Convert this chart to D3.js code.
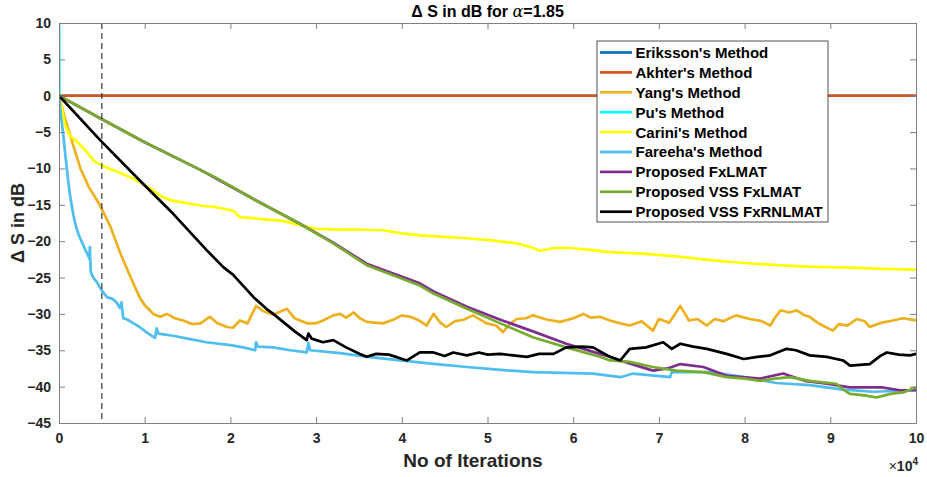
<!DOCTYPE html>
<html>
<head>
<meta charset="utf-8">
<script src="https://cdn.jsdelivr.net/npm/d3@7"></script>
<style>
  body { margin: 0; background: #fff; }
  svg { font-family: "Liberation Sans", Arial, sans-serif; }
</style>
</head>
<body>
<svg id="chart" width="927" height="477"></svg>
<script>
// x values are in units of 10^4 iterations, y values in dB
const xTicks = [0, 1, 2, 3, 4, 5, 6, 7, 8, 9, 10];
const yTicks = [-45, -40, -35, -30, -25, -20, -15, -10, -5, 0, 5, 10];
const markerX = 0.5;

const erikssonX = [0, 10];
const erikssonY = [0, 0];
const akhterX = [0, 10];
const akhterY = [0, 0];
const puX = [0, 0.004];
const puY = [14, -1.5];

const yangX = [0, 0.07, 0.15, 0.25, 0.35, 0.48, 0.6, 0.71, 0.8, 0.89, 0.94, 1.0, 1.06, 1.1, 1.18, 1.26, 1.35, 1.45, 1.55, 1.65, 1.76, 1.85, 1.96, 2.03, 2.11, 2.2, 2.3, 2.38, 2.5, 2.58, 2.66, 2.75, 2.89, 3.0, 3.08, 3.2, 3.28, 3.35, 3.44, 3.51, 3.59, 3.78, 3.9, 4.0, 4.1, 4.2, 4.29, 4.37, 4.45, 4.52, 4.62, 4.72, 4.83, 4.99, 5.1, 5.18, 5.26, 5.34, 5.45, 5.53, 5.7, 5.85, 6.0, 6.12, 6.2, 6.31, 6.43, 6.55, 6.66, 6.8, 6.93, 7.0, 7.12, 7.25, 7.35, 7.45, 7.56, 7.65, 7.75, 7.9, 8.06, 8.2, 8.3, 8.35, 8.42, 8.52, 8.61, 8.7, 8.76, 8.85, 8.91, 9.03, 9.1, 9.2, 9.31, 9.4, 9.46, 9.6, 9.73, 9.85, 10];
const yangY = [0, -3.1, -6.2, -10, -12.6, -15.1, -18.0, -21.5, -24.0, -26.4, -27.7, -28.8, -29.5, -30.0, -30.4, -30.0, -30.6, -30.9, -31.4, -31.3, -30.4, -31.3, -31.8, -31.9, -30.9, -31.3, -28.9, -29.6, -30.1, -29.7, -29.3, -30.6, -31.3, -31.3, -30.9, -30.2, -30.0, -30.5, -29.8, -30.6, -31.1, -31.3, -30.8, -30.2, -30.4, -30.9, -31.6, -30.0, -31.2, -31.8, -31.0, -30.8, -30.2, -31.3, -31.6, -32.5, -31.4, -30.7, -30.6, -30.2, -30.8, -31.1, -30.6, -30.0, -30.5, -30.4, -30.9, -31.3, -31.6, -31.0, -32.3, -30.7, -31.2, -28.9, -30.9, -30.7, -31.6, -30.7, -31.0, -30.2, -30.7, -31.0, -31.6, -30.6, -29.5, -29.8, -29.5, -30.2, -30.4, -31.2, -31.6, -32.3, -31.4, -31.6, -30.7, -31.0, -31.8, -31.2, -30.9, -30.6, -30.9];

const cariniX = [0, 0.02, 0.07, 0.13, 0.2, 0.3, 0.42, 0.54, 0.63, 0.73, 0.85, 0.93, 1.02, 1.12, 1.2, 1.31, 1.51, 1.65, 1.82, 2.03, 2.11, 2.23, 2.5, 2.61, 2.81, 3.0, 3.28, 3.5, 3.78, 3.98, 4.21, 4.5, 4.76, 5.05, 5.34, 5.5, 5.61, 5.75, 5.92, 6.2, 6.43, 6.81, 7.2, 7.6, 8.0, 8.37, 8.75, 9.15, 9.6, 10];
const cariniY = [0, -1.0, -4.0, -5.6, -6.2, -7.4, -9.1, -9.8, -10.2, -10.7, -11.3, -11.8, -12.4, -13.2, -13.9, -14.4, -14.8, -15.1, -15.3, -15.8, -16.7, -16.8, -17.1, -17.2, -17.8, -18.3, -18.4, -18.4, -18.5, -18.9, -19.2, -19.4, -19.6, -19.9, -20.3, -20.8, -21.3, -21.0, -20.9, -21.2, -21.5, -21.7, -22.1, -22.6, -23.0, -23.3, -23.5, -23.6, -23.8, -23.9];

const fareehaX = [0, 0.02, 0.05, 0.08, 0.11, 0.13, 0.15, 0.17, 0.19, 0.22, 0.25, 0.27, 0.3, 0.34, 0.355, 0.36, 0.37, 0.4, 0.44, 0.5, 0.56, 0.62, 0.67, 0.71, 0.73, 0.75, 0.8, 0.87, 0.94, 1.03, 1.12, 1.14, 1.16, 1.33, 1.5, 1.72, 2.0, 2.15, 2.29, 2.3, 2.32, 2.5, 2.7, 2.89, 2.91, 2.93, 3.28, 3.6, 3.98, 4.4, 4.76, 5.15, 5.53, 5.9, 6.23, 6.55, 6.7, 7.13, 7.15, 7.6, 8.0, 8.37, 8.76, 9.15, 9.5, 10];
const fareehaY = [0, -2.5, -5.4, -8.8, -12.0, -13.8, -15.2, -16.5, -17.6, -18.8, -19.7, -20.2, -21.0, -22.0, -22.4, -20.8, -24.2, -25.0, -25.6, -26.8, -27.7, -27.9, -28.4, -29.2, -28.4, -30.6, -30.8, -31.3, -31.8, -32.6, -33.3, -32.0, -32.7, -33.0, -33.4, -33.9, -34.3, -34.6, -35.0, -33.9, -34.5, -34.6, -35.0, -35.3, -34.0, -35.0, -35.4, -35.9, -36.4, -36.9, -37.3, -37.7, -38.0, -38.1, -38.2, -38.7, -38.2, -38.7, -38.0, -38.0, -38.7, -39.5, -39.8, -40.4, -40.7, -40.5];

const fxlmatX = [0, 0.48, 1.0, 1.65, 2.3, 2.81, 3.2, 3.59, 4.21, 4.37, 4.76, 5.15, 5.53, 5.92, 6.31, 6.43, 6.6, 6.93, 7.1, 7.25, 7.52, 7.79, 8.18, 8.45, 8.7, 8.96, 9.23, 9.6, 9.81, 10];
const fxlmatY = [0, -3.1, -6.4, -10.2, -14.4, -17.6, -20.2, -23.1, -25.8, -26.9, -29.0, -30.8, -32.4, -34.1, -35.5, -35.9, -36.6, -37.8, -37.5, -36.9, -37.3, -38.5, -38.9, -38.2, -39.2, -39.6, -40.1, -40.1, -40.5, -40.5];

const vssX = [0, 0.48, 1.0, 1.65, 1.82, 2.3, 2.81, 3.2, 3.59, 4.21, 4.37, 4.76, 5.15, 5.53, 5.92, 6.31, 6.43, 6.66, 6.93, 7.2, 7.52, 7.79, 8.0, 8.18, 8.35, 8.53, 8.76, 9.07, 9.15, 9.23, 9.4, 9.54, 9.7, 9.85, 10];
const vssY = [0, -3.1, -6.4, -10.2, -11.2, -14.4, -17.6, -20.3, -23.3, -26.1, -27.2, -29.3, -31.3, -33.2, -34.6, -35.9, -36.4, -36.6, -37.3, -37.8, -38.0, -38.7, -38.9, -39.2, -38.9, -38.7, -39.2, -39.6, -40.4, -41.0, -41.2, -41.5, -41.0, -40.8, -40.1];

const rnlmatX = [0, 0.48, 0.98, 1.33, 1.65, 1.72, 1.92, 2.03, 2.27, 2.42, 2.5, 2.74, 2.89, 2.91, 2.95, 3.08, 3.2, 3.35, 3.51, 3.59, 3.7, 3.85, 4.06, 4.21, 4.37, 4.5, 4.6, 4.76, 4.9, 5.0, 5.15, 5.3, 5.46, 5.6, 5.77, 5.92, 6.1, 6.23, 6.43, 6.55, 6.66, 6.85, 7.05, 7.15, 7.25, 7.4, 7.56, 7.79, 7.99, 8.15, 8.3, 8.49, 8.6, 8.76, 8.96, 9.15, 9.23, 9.46, 9.58, 9.66, 9.8, 9.93, 10];
const rnlmatY = [0, -6.1, -12.1, -16.2, -20.3, -21.2, -23.6, -24.6, -27.7, -29.3, -30.0, -32.3, -33.6, -32.7, -33.4, -33.9, -33.6, -34.6, -35.5, -35.9, -35.5, -35.6, -36.4, -35.3, -35.3, -35.8, -35.3, -35.7, -35.3, -35.6, -35.5, -35.7, -35.9, -35.5, -35.5, -34.6, -34.5, -34.6, -35.9, -36.4, -34.8, -34.6, -33.9, -34.8, -34.1, -34.5, -34.8, -35.5, -36.2, -35.9, -35.7, -34.8, -35.0, -35.7, -35.9, -36.4, -37.1, -36.9, -35.8, -35.3, -35.6, -35.7, -35.5];

const seriesNames = ["Eriksson's Method", "Akhter's Method", "Yang's Method", "Pu's Method", "Carini's Method",
  "Fareeha's Method", "Proposed FxLMAT", "Proposed VSS FxLMAT", "Proposed VSS FxRNLMAT"];
const seriesColors = ["#0072BD", "#D95319", "#EDB120", "#00FFFF", "#FFFF00", "#4DBEEE", "#7E2F8E", "#77AC30", "#000000"];
const seriesXs = [erikssonX, akhterX, yangX, puX, cariniX, fareehaX, fxlmatX, vssX, rnlmatX];
const seriesYs = [erikssonY, akhterY, yangY, puY, cariniY, fareehaY, fxlmatY, vssY, rnlmatY];

const series = seriesNames.map((name, i) => ({
  name,
  color: seriesColors[i],
  points: seriesXs[i].map((x, j) => [x, seriesYs[i][j]])
}));

const svg = d3.select("#chart");
const plotLeft = 59, plotRight = 916, plotTop = 23, plotBottom = 423;
const axisColor = "#262626";

const x = d3.scaleLinear().domain([0, 10]).range([plotLeft, plotRight]);
const y = d3.scaleLinear().domain([-45, 10]).range([plotBottom, plotTop]);

svg.append("defs").append("clipPath").attr("id", "plot-clip")
  .append("rect")
  .attr("x", plotLeft).attr("y", plotTop)
  .attr("width", plotRight - plotLeft).attr("height", plotBottom - plotTop);

// series lines
const line = d3.line().x(d => x(d[0])).y(d => y(d[1]));
const plot = svg.append("g").attr("clip-path", "url(#plot-clip)");

plot.selectAll("path.series")
  .data(series)
  .enter().append("path")
  .attr("class", "series")
  .attr("d", d => line(d.points))
  .attr("fill", "none")
  .attr("stroke", d => d.color)
  .attr("stroke-width", 2.7)
  .attr("stroke-linejoin", "round");

// dashed marker
plot.append("line")
  .attr("x1", x(markerX)).attr("x2", x(markerX))
  .attr("y1", y(10)).attr("y2", y(-45))
  .attr("stroke", axisColor)
  .attr("stroke-width", 1.1)
  .attr("stroke-dasharray", "6,4");

// axes, MATLAB style: ticks inside, box on
function styleAxis(g) {
  g.select(".domain").attr("stroke", "#7f7f7f");
  g.selectAll(".tick line").attr("stroke", "#7f7f7f");
  g.selectAll("text")
    .attr("fill", axisColor)
    .style("font-size", "14px")
    .style("font-weight", "bold")
    .style("font-family", "'Liberation Sans', Arial, sans-serif");
}

svg.append("g")
  .attr("transform", `translate(0,${plotBottom})`)
  .call(d3.axisBottom(x).tickValues(xTicks).tickFormat(d3.format("d")).tickSizeInner(-6).tickSizeOuter(0).tickPadding(10))
  .call(styleAxis);

svg.append("g")
  .attr("transform", `translate(0,${plotTop})`)
  .call(d3.axisTop(x).tickValues(xTicks).tickFormat("").tickSizeInner(-6).tickSizeOuter(0))
  .call(styleAxis);

svg.append("g")
  .attr("transform", `translate(${plotLeft},0)`)
  .call(d3.axisLeft(y).tickValues(yTicks).tickFormat(d3.format("d")).tickSizeInner(-6).tickSizeOuter(0).tickPadding(8))
  .call(styleAxis);

svg.append("g")
  .attr("transform", `translate(${plotRight},0)`)
  .call(d3.axisRight(y).tickValues(yTicks).tickFormat("").tickSizeInner(-6).tickSizeOuter(0))
  .call(styleAxis);

// title
const title = svg.append("text")
  .attr("x", (plotLeft + plotRight) / 2)
  .attr("y", 17)
  .attr("text-anchor", "middle")
  .style("font-size", "16px")
  .style("font-weight", "bold")
  .attr("fill", "#000");
title.append("tspan").text("Δ S in dB for ");
title.append("tspan").style("font-style", "italic").style("font-weight", "normal")
  .style("font-family", "'DejaVu Serif', serif").text("α");
title.append("tspan").text("=1.85");

// axis labels
svg.append("text")
  .attr("x", 473)
  .attr("y", 467)
  .attr("text-anchor", "middle")
  .style("font-size", "19px")
  .style("font-weight", "bold")
  .attr("fill", axisColor)
  .text("No of Iterations");

svg.append("text")
  .attr("transform", `translate(24,${(plotTop + plotBottom) / 2}) rotate(-90)`)
  .attr("text-anchor", "middle")
  .style("font-size", "18px")
  .style("font-weight", "bold")
  .attr("fill", axisColor)
  .text("Δ S in dB");

const expo = svg.append("text")
  .attr("x", plotRight + 2)
  .attr("y", 471)
  .attr("text-anchor", "end")
  .style("font-size", "14px")
  .style("font-weight", "bold")
  .attr("fill", axisColor);
expo.append("tspan").style("font-weight", "normal").text("×");
expo.append("tspan").text("10");
expo.append("tspan").attr("dy", -6).style("font-size", "10px").text("4");

// legend
const legend = svg.append("g").attr("transform", "translate(597,41)");
legend.append("rect")
  .attr("width", 231).attr("height", 181)
  .attr("fill", "#fff")
  .attr("stroke", axisColor)
  .attr("stroke-width", 0.8);

const entry = legend.selectAll("g.entry")
  .data(series)
  .enter().append("g")
  .attr("class", "entry")
  .attr("transform", (d, i) => `translate(0,${11.5 + i * 19.9})`);

entry.append("line")
  .attr("x1", 3).attr("x2", 35)
  .attr("stroke", d => d.color)
  .attr("stroke-width", 2.7);

entry.append("text")
  .attr("x", 38.5)
  .attr("dy", "0.36em")
  .style("font-size", "15px")
  .style("font-weight", "bold")
  .attr("fill", "#000")
  .text(d => d.name);
</script>
</body>
</html>
